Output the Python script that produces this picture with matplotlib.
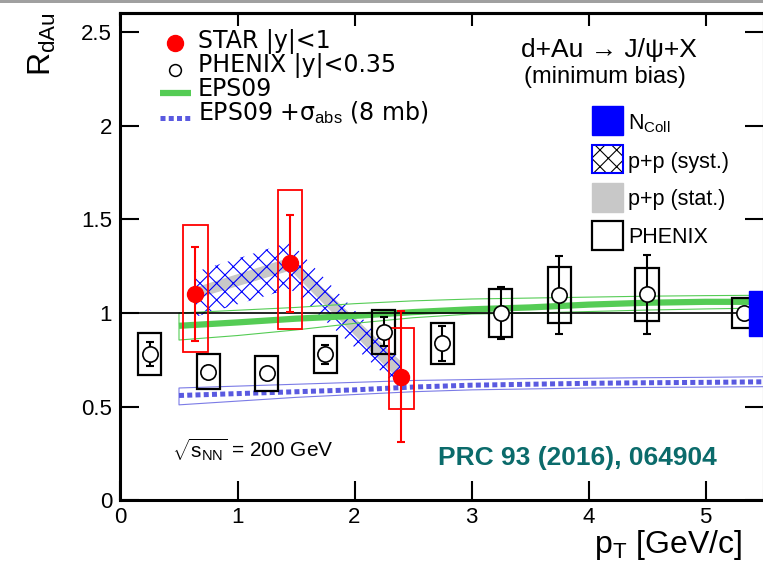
import numpy as np
import matplotlib
matplotlib.use("Agg")
import matplotlib.pyplot as plt
from matplotlib.patches import Rectangle
from matplotlib.lines import Line2D
from matplotlib.ticker import FuncFormatter

plt.rcParams['font.family'] = ['Liberation Sans', 'DejaVu Sans']
plt.rcParams['mathtext.fontset'] = 'custom'
plt.rcParams['mathtext.rm'] = 'Liberation Sans'
plt.rcParams['mathtext.it'] = 'Liberation Sans:italic'
plt.rcParams['hatch.linewidth'] = 0.8

# STAR |y|<1
star_pt = [0.64, 1.45, 2.40]
star_r = [1.10, 1.265, 0.66]
star_stat = [0.25, 0.26, 0.35]
star_sys_up = [0.37, 0.39, 0.26]
star_sys_dn = [0.31, 0.35, 0.17]

# p+p reference uncertainty bands around STAR points
pp_syst_lo = [0.98, 1.13, 0.59]
pp_syst_hi = [1.22, 1.38, 0.75]
pp_stat_lo = [1.08, 1.23, 0.63]
pp_stat_hi = [1.14, 1.30, 0.74]

# PHENIX |y|<0.35
phenix_pt = [0.25, 0.75, 1.25, 1.75, 2.25, 2.75, 3.25, 3.75, 4.5, 5.33]
phenix_r = [0.78, 0.687, 0.678, 0.78, 0.90, 0.838, 1.0, 1.096, 1.10, 1.0]
phenix_stat = [0.065, 0.03, 0.03, 0.052, 0.078, 0.094, 0.14, 0.21, 0.21, 0.0]
phenix_sys = [0.112, 0.094, 0.095, 0.10, 0.118, 0.11, 0.13, 0.15, 0.14, 0.08]

# EPS09 and EPS09 + sigma_abs (8 mb)
eps_pt = [0.5, 1.0, 1.5, 2.0, 2.5, 3.0, 3.5, 4.0, 4.5, 5.0, 5.5]
eps_mid = [0.932, 0.95, 0.97, 0.985, 1.005, 1.02, 1.03, 1.045, 1.055, 1.06, 1.06]
eps_hi = [1.00, 1.015, 1.03, 1.05, 1.065, 1.075, 1.08, 1.085, 1.09, 1.093, 1.095]
eps_lo = [0.856, 0.88, 0.91, 0.945, 0.975, 0.995, 1.0, 1.008, 1.016, 1.022, 1.027]

abs_mid = [0.56, 0.57, 0.58, 0.59, 0.605, 0.615, 0.62, 0.625, 0.628, 0.63, 0.633]
abs_hi = [0.60, 0.61, 0.62, 0.63, 0.64, 0.645, 0.65, 0.652, 0.655, 0.657, 0.66]
abs_lo = [0.51, 0.53, 0.55, 0.565, 0.58, 0.59, 0.595, 0.60, 0.603, 0.605, 0.607]

ncoll_err = 0.12

W, H = 763, 564
def fx(px):
    return px / W
def fy(py):
    return 1 - py / H

fig = plt.figure(figsize=(W / 100, H / 100), dpi=100)
ax = fig.add_axes([fx(120.5), fy(500.4), 643.5 / W, 487.1 / H])
ax.set_xlim(0, 5.5)
ax.set_ylim(0, 2.6)

green = '#55cc55'
vblue = '#5a5ae0'

# p+p bands
ax.fill_between(star_pt, pp_stat_lo, pp_stat_hi, color='#c8c8c8', lw=0, zorder=1)
ax.fill_between(star_pt, pp_syst_lo, pp_syst_hi, facecolor='none', edgecolor='blue',
                hatch='xx', lw=0, zorder=2)

# EPS09
ax.fill_between(eps_pt, eps_lo, eps_hi, facecolor='none', edgecolor=green, lw=0.8, zorder=3)
ax.plot(eps_pt, eps_mid, color=green, lw=4.5, solid_capstyle='butt', zorder=3)

# EPS09 + sigma_abs
ax.fill_between(eps_pt, abs_lo, abs_hi, facecolor='none', edgecolor=vblue, lw=0.8,
                alpha=0.8, zorder=3)
ax.plot(eps_pt, abs_mid, color=vblue, lw=3.6, linestyle=(0, (1, 0.65)), zorder=3)

ax.axhline(1, color='black', lw=1.2, zorder=4)

# PHENIX boxes, bars, markers
for x, y, s in zip(phenix_pt, phenix_r, phenix_sys):
    ax.add_patch(Rectangle((x - 0.1, y - s), 0.2, 2 * s, fill=False,
                           edgecolor='black', lw=1.6, zorder=5))
ax.errorbar(phenix_pt, phenix_r, yerr=phenix_stat, fmt='none', ecolor='black',
            elinewidth=1.5, capsize=3, capthick=1.5, zorder=6)
ax.plot(phenix_pt, phenix_r, 'o', mfc='white', mec='black', ms=11, mew=1.2, zorder=7)

# STAR boxes, bars, markers
for x, y, u, d in zip(star_pt, star_r, star_sys_up, star_sys_dn):
    ax.add_patch(Rectangle((x - 0.105, y - d), 0.21, u + d, fill=False,
                           edgecolor='red', lw=1.3, zorder=5))
ax.errorbar(star_pt, star_r, yerr=star_stat, fmt='none', ecolor='red',
            elinewidth=1.5, capsize=3, capthick=1.5, zorder=6)
ax.plot(star_pt, star_r, 'o', color='red', ms=11.5, zorder=8)

# N_coll uncertainty
ax.add_patch(Rectangle((5.37, 1 - ncoll_err), 0.13, 2 * ncoll_err, color='blue', zorder=9))

# axes styling
ax.set_xticks(range(6))
ax.set_yticks([0, 0.5, 1, 1.5, 2, 2.5])
ax.yaxis.set_major_formatter(FuncFormatter(lambda v, p: '%g' % v))
ax.tick_params(direction='in', length=13.5, width=1.5, right=True, top=False,
               labelsize=16, pad=6)
ax.tick_params(axis='x', pad=5)
for sp in ax.spines.values():
    sp.set_linewidth(2.2)
sec = ax.secondary_xaxis('top')
sec.set_xticks(range(6))
sec.tick_params(direction='in', length=9.5, width=1.5, labeltop=False)
sec.spines['top'].set_linewidth(2.2)

fig.text(fx(742), fy(553), r'p$_{\rm T}$ [GeV/c]', fontsize=23, ha='right', va='baseline')
fig.text(fx(42), fy(12), r'R$_{\rm dAu}$', fontsize=23, rotation=90, ha='center', va='top')

# left legend
lg_font = dict(family=['DejaVu Sans'], fontsize=17, va='baseline')
fig.add_artist(Line2D([fx(175)], [fy(43.3)], marker='o', color='red', ms=11.5, ls='none'))
fig.add_artist(Line2D([fx(175)], [fy(70)], marker='o', mfc='white', mec='black',
                      ms=8.5, mew=1.1, ls='none'))
fig.add_artist(Line2D([fx(160), fx(191)], [fy(93.3), fy(93.3)], color=green, lw=4.5,
                      solid_capstyle='butt'))
fig.add_artist(Line2D([fx(160), fx(191)], [fy(118.3), fy(118.3)], color=vblue, lw=3.6,
                      linestyle=(0, (1, 0.65))))
fig.text(fx(198), fy(48.3), 'STAR |y|<1', **lg_font)
fig.text(fx(198), fy(71.7), 'PHENIX |y|<0.35', **lg_font)
fig.text(fx(198), fy(96), 'EPS09', **lg_font)
fig.text(fx(198), fy(120), r'EPS09 +σ$_{\rm abs}$ (8 mb)', **lg_font)

# right legend
bw, bh = 31 / W, 29 / H
fig.add_artist(Rectangle((fx(592), fy(135)), bw, bh, transform=fig.transFigure,
                         color='blue'))
fig.add_artist(Rectangle((fx(592), fy(173)), bw, 28 / H, transform=fig.transFigure,
                         facecolor='white', edgecolor='black', hatch='xx', lw=0))
fig.add_artist(Rectangle((fx(592), fy(173)), bw, 28 / H, transform=fig.transFigure,
                         fill=False, edgecolor='blue', lw=1.5))
fig.add_artist(Rectangle((fx(592), fy(212)), bw, bh, transform=fig.transFigure,
                         color='#c8c8c8'))
fig.add_artist(Rectangle((fx(592), fy(250)), bw, bh, transform=fig.transFigure,
                         fill=False, edgecolor='black', lw=1.6))
rl_font = dict(fontsize=15.5, va='baseline')
fig.text(fx(628), fy(129.3), r'N$_{\rm Coll}$', **rl_font)
fig.text(fx(628), fy(168.3), 'p+p (syst.)', **rl_font)
fig.text(fx(628), fy(205), 'p+p (stat.)', **rl_font)
fig.text(fx(628), fy(242.7), 'PHENIX', **rl_font)

fig.text(fx(608.5), fy(57.3), 'd+Au → J/ψ+X', fontsize=19, ha='center', va='baseline')
fig.text(fx(604.5), fy(83.3), '(minimum bias)', fontsize=17, ha='center', va='baseline')

fig.text(fx(171.7), fy(457.3), r'$\sqrt{\mathrm{s}_{\rm NN}}$ = 200 GeV', fontsize=15,
         va='baseline')
fig.text(fx(438), fy(465), 'PRC 93 (2016), 064904', fontsize=19, fontweight='bold',
         color='#0b6b6b', va='baseline')

fig.add_artist(Rectangle((0, fy(2.7)), 1, 2.7 / H, transform=fig.transFigure,
                         color='#a0a0a0', lw=0))

fig.savefig('out.png', dpi=100)
